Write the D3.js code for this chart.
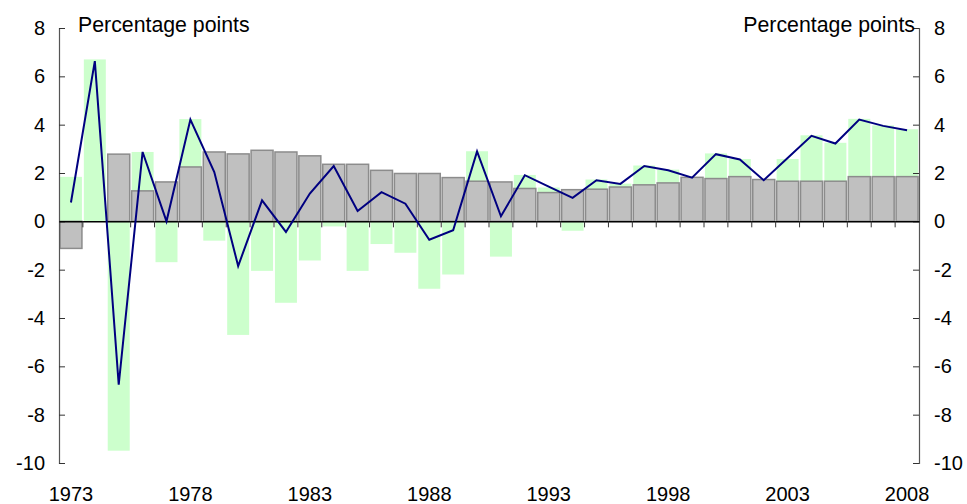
<!DOCTYPE html>
<html>
<head>
<meta charset="utf-8">
<script src="https://cdn.jsdelivr.net/npm/d3@7"></script>
<style>
  html, body { margin: 0; padding: 0; background: #fff; }
  svg { display: block; font-family: 'Liberation Sans', Arial, sans-serif; }
</style>
</head>
<body>
<svg id="chart" width="967" height="504"></svg>
<script>
'use strict';

/* ── data ────────────────────────────────── */
const years = [1973, 1974, 1975, 1976, 1977, 1978, 1979, 1980, 1981, 1982,
               1983, 1984, 1985, 1986, 1987, 1988, 1989, 1990, 1991, 1992,
               1993, 1994, 1995, 1996, 1997, 1998, 1999, 2000, 2001, 2002,
               2003, 2004, 2005, 2006, 2007, 2008];

// grey bars (stacked first)
const greyVals = [-1.12, 0.00, 2.78, 1.26, 1.63, 2.25, 2.87, 2.79, 2.94, 2.87,
                   2.71, 2.36, 2.36, 2.11, 1.98, 1.98, 1.81, 1.66, 1.63, 1.36,
                   1.19, 1.31, 1.33, 1.42, 1.51, 1.59, 1.82, 1.77, 1.85, 1.73,
                   1.66, 1.66, 1.66, 1.85, 1.85, 1.85];

// green bars (stacked on top of grey / below zero)
const greenVals = [1.84, 6.70, -9.49, 1.61, -1.69, 1.98, -0.80, -4.70, -2.05, -3.37,
                  -1.62, -0.21, -2.05, -0.94, -1.30, -2.79, -2.20, 1.24, -1.46, 0.56,
                   0.21, -0.39, 0.40, 0.14, 0.80, 0.55, 0.00, 1.04, 0.73, 0.00,
                   0.92, 1.90, 1.59, 2.39, 2.12, 1.96];

// dark blue line (total)
const lineVals = [0.78, 6.63, -6.76, 2.87, 0.00, 4.21, 2.04, -1.85, 0.87, -0.44,
                  1.15, 2.29, 0.43, 1.21, 0.73, -0.76, -0.37, 2.89, 0.21, 1.91,
                  1.44, 0.97, 1.70, 1.55, 2.29, 2.11, 1.81, 2.78, 2.56, 1.70,
                  2.62, 3.54, 3.22, 4.21, 3.95, 3.77];

const yTicks = [-10, -8, -6, -4, -2, 0, 2, 4, 6, 8];
const xLabelYears = [1973, 1978, 1983, 1988, 1993, 1998, 2003, 2008];
const unitLabel = 'Percentage points';

/* ── layout ──────────────────────────────── */
const L = 59, R = 919, T = 28, B = 463;
const FS = 20;

const svg = d3.select('#chart');

const x = d3.scaleBand().domain(years).range([L, R]).paddingInner(0.08).paddingOuter(0.04);
const y = d3.scaleLinear().domain([-10, 8]).range([B, T]);

const rows = years.map((yr, i) => ({ year: yr, grey: greyVals[i], green: greenVals[i] }));
const stacked = d3.stack().keys(['grey', 'green']).offset(d3.stackOffsetDiverging)(rows);
const fills  = { grey: '#c0c0c0', green: '#ccffcc' };

/* ── bars ────────────────────────────────── */
// green first, grey on top
['green', 'grey'].forEach(key => {
  const layer = stacked.find(s => s.key === key);
  svg.append('g').selectAll('rect').data(layer).join('rect')
    .attr('x', d => x(d.data.year))
    .attr('width', x.bandwidth())
    .attr('y', d => y(Math.max(d[0], d[1])))
    .attr('height', d => Math.abs(y(d[0]) - y(d[1])))
    .attr('fill', fills[key])
    .attr('stroke', key === 'grey' ? '#8c8c8c' : 'none')
    .attr('stroke-width', key === 'grey' ? 1.5 : 0);
});

/* ── axes ────────────────────────────────── */
const fmt = d => String(d);   // plain hyphen minus, as in the original
const leftAxis = d3.axisLeft(y).tickValues(yTicks).tickSize(-6).tickPadding(14).tickFormat(fmt);
const rightAxis = d3.axisRight(y).tickValues(yTicks).tickSize(-6).tickPadding(15).tickFormat(fmt);

const gl = svg.append('g').attr('transform', `translate(${L},0)`).call(leftAxis);
const gr = svg.append('g').attr('transform', `translate(${R},0)`).call(rightAxis);
[gl, gr].forEach(g => {
  g.select('.domain').attr('stroke', '#555').attr('stroke-width', 1.2);
  g.selectAll('.tick line').attr('stroke', '#333');
  g.selectAll('.tick text').attr('font-size', FS).attr('fill', '#000')
    .attr('font-family', "'Liberation Sans', Arial, sans-serif");
});

// zero line with category ticks
const xAxis = d3.axisBottom(x).tickValues([]).tickSizeOuter(0);
const gx = svg.append('g').attr('transform', `translate(0,${y(0)})`).call(xAxis);
gx.select('.domain').attr('stroke', '#000').attr('stroke-width', 1.5);
gx.selectAll('line.cat').data(years.slice(1)).join('line')
  .attr('class', 'cat')
  .attr('x1', d => x(d) - x.step() * x.paddingInner() / 2)
  .attr('x2', d => x(d) - x.step() * x.paddingInner() / 2)
  .attr('y1', 0).attr('y2', 6)
  .attr('stroke', '#333').attr('stroke-width', 1);

// year labels
svg.append('g').selectAll('text').data(xLabelYears).join('text')
  .attr('x', d => x(d) + x.bandwidth() / 2)
  .attr('y', 501)
  .attr('text-anchor', 'middle')
  .attr('font-size', FS)
  .text(d => d);

/* ── line ────────────────────────────────── */
const line = d3.line()
  .x((d, i) => x(years[i]) + x.bandwidth() / 2)
  .y(d => y(d));

svg.append('path')
  .datum(lineVals)
  .attr('d', line)
  .attr('fill', 'none')
  .attr('stroke', '#000080')
  .attr('stroke-width', 2);

/* ── unit labels ─────────────────────────── */
svg.append('text').attr('x', 78).attr('y', 32).attr('font-size', 21.3).text(unitLabel);
svg.append('text').attr('x', 915).attr('y', 32).attr('text-anchor', 'end').attr('font-size', 21.3).text(unitLabel);
</script>
</body>
</html>
